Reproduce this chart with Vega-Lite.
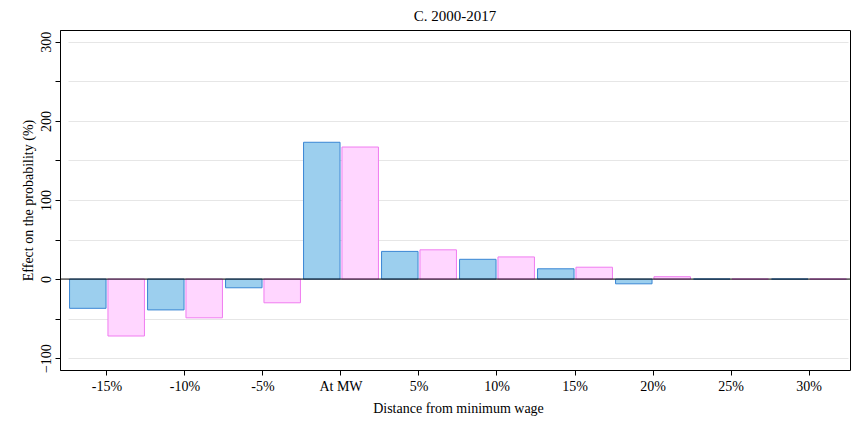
{
  "$schema": "https://vega.github.io/schema/vega-lite/v6.json",
  "width": 790,
  "height": 340,
  "autosize": {"type": "none"},
  "padding": {"left": 60, "top": 30, "right": 1, "bottom": 51},
  "background": "white",
  "config": {
    "font": "Liberation Serif",
    "view": {"stroke": "#000", "strokeWidth": 1},
    "axis": {"labelFont": "Liberation Serif", "titleFont": "Liberation Serif", "labelFontSize": 14, "titleFontSize": 14, "titleFontWeight": "normal", "labelColor": "#000", "titleColor": "#000", "domainColor": "#000", "tickColor": "#000"}
  },
  "title": {"text": "C. 2000-2017", "font": "Liberation Serif", "fontSize": 15, "fontWeight": "normal", "offset": 6},
  "data": {"values": [
    {"cat": "-15%", "s": "a", "v": -37}, {"cat": "-15%", "s": "b", "v": -72},
    {"cat": "-10%", "s": "a", "v": -39}, {"cat": "-10%", "s": "b", "v": -49},
    {"cat": "-5%", "s": "a", "v": -11}, {"cat": "-5%", "s": "b", "v": -30},
    {"cat": "At MW", "s": "a", "v": 173}, {"cat": "At MW", "s": "b", "v": 167},
    {"cat": "5%", "s": "a", "v": 35}, {"cat": "5%", "s": "b", "v": 37},
    {"cat": "10%", "s": "a", "v": 25}, {"cat": "10%", "s": "b", "v": 28},
    {"cat": "15%", "s": "a", "v": 13}, {"cat": "15%", "s": "b", "v": 15},
    {"cat": "20%", "s": "a", "v": -6}, {"cat": "20%", "s": "b", "v": 3},
    {"cat": "25%", "s": "a", "v": 0}, {"cat": "25%", "s": "b", "v": 0},
    {"cat": "30%", "s": "a", "v": 0}, {"cat": "30%", "s": "b", "v": 0}
  ]},
  "layer": [
    {
      "mark": {"type": "bar", "strokeWidth": 1},
      "encoding": {
        "x": {"field": "cat", "type": "nominal", "sort": null,
          "scale": {"paddingInner": 0.04, "paddingOuter": 0.02, "range": [8, 788]},
          "axis": {"title": "Distance from minimum wage", "labelAngle": 0, "titleY": 31, "labelPadding": 4, "tickSize": 5}},
        "xOffset": {"field": "s", "type": "nominal", "scale": {"paddingInner": 0.05}},
        "y": {"field": "v", "type": "quantitative",
          "scale": {"domain": [-115, 315], "nice": false},
          "axis": {"title": "Effect on the probability (%)", "values": [-100, -50, 0, 50, 100, 150, 200, 250, 300],
            "labelExpr": "datum.value % 100 == 0 ? datum.label : ''", "labelAngle": -90, "labelAlign": "center", "labelBaseline": "bottom",
            "grid": true, "gridColor": "#e6e6e6", "tickSize": 5, "titlePadding": 4, "format": "d"}},
        "color": {"field": "s", "type": "nominal", "legend": null, "scale": {"domain": ["a", "b"], "range": ["#9ccfee", "#ffd6ff"]}},
        "stroke": {"field": "s", "type": "nominal", "legend": null, "scale": {"domain": ["a", "b"], "range": ["#3a86d4", "#f07cf0"]}}
      }
    },
    {
      "data": {"values": [{"z": 0}]},
      "mark": {"type": "rule", "color": "#000", "strokeWidth": 1},
      "encoding": {"y": {"field": "z", "type": "quantitative"}}
    }
  ]
}
